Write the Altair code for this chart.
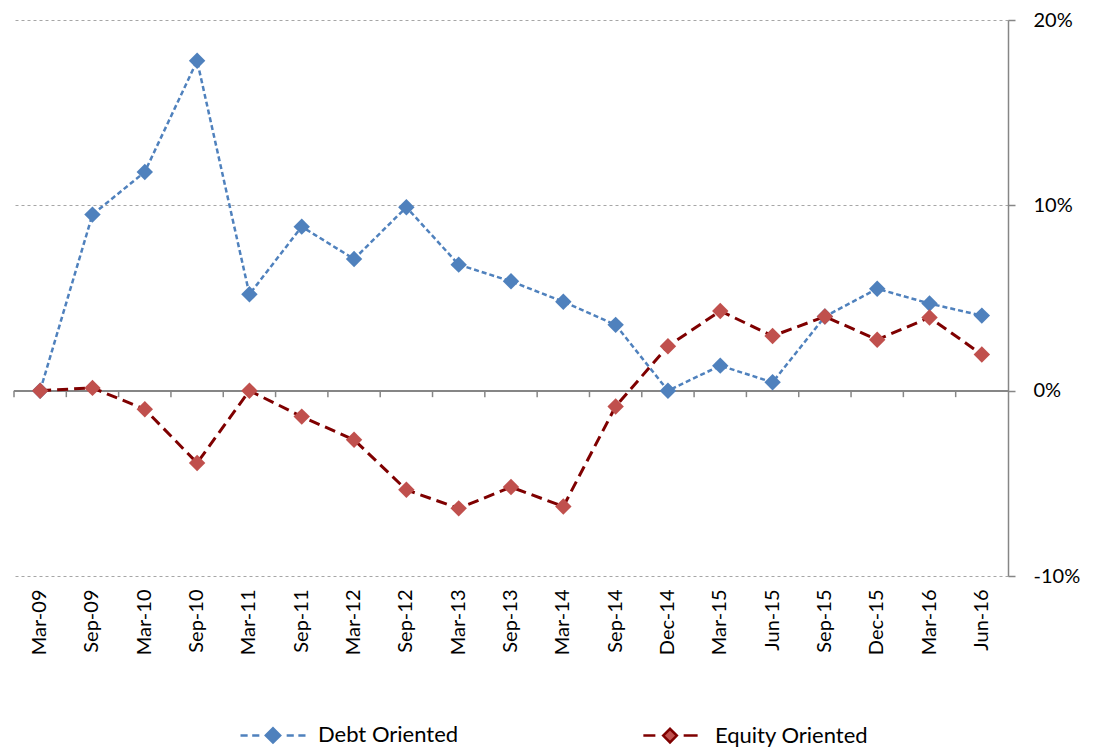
import altair as alt
import pandas as pd

categories = ["Mar-09", "Sep-09", "Mar-10", "Sep-10", "Mar-11", "Sep-11", "Mar-12",
              "Sep-12", "Mar-13", "Sep-13", "Mar-14", "Sep-14", "Dec-14", "Mar-15",
              "Jun-15", "Sep-15", "Dec-15", "Mar-16", "Jun-16"]
debt = [0.0, 9.5, 11.8, 17.8, 5.2, 8.85, 7.1, 9.9, 6.8, 5.9, 4.8, 3.55, 0.0, 1.35,
        0.45, 4.0, 5.5, 4.7, 4.05]
equity = [0.0, 0.15, -1.0, -3.9, 0.0, -1.4, -2.65, -5.35, -6.35, -5.2, -6.25, -0.85,
          2.4, 4.3, 2.95, 4.0, 2.75, 3.95, 1.95]
series_names = ["Debt Oriented", "Equity Oriented"]
line_colors = ["#4F81BD", "#7F0000"]
marker_colors = ["#4F81BD", "#C0504D"]
y_ticks = [-10, 0, 10, 20]

rows = []
for c, d, e in zip(categories, debt, equity):
    rows.append({"period": c, "series": series_names[0], "value": d})
    rows.append({"period": c, "series": series_names[1], "value": e})
df = pd.DataFrame(rows)
cat_df = pd.DataFrame({"period": categories})

FONT = "Lato"
AX = "#868686"

xscale = alt.Scale(type="band", domain=categories, paddingInner=0, paddingOuter=0)
yscale = alt.Scale(domain=[-10, 20], nice=False, zero=False)

x_axis = alt.Axis(labelAngle=-90, domain=False, ticks=False, grid=False,
                  labelFont=FONT, labelFontSize=20, labelColor="black",
                  labelFontWeight="normal",
                  labelPadding=13, labelAlign="right", labelBaseline="middle")
x_enc = alt.X("period:N", scale=xscale, sort=categories, bandPosition=0.5,
              title=None, axis=x_axis)
x_tick = alt.X("period:N", scale=xscale, sort=categories, bandPosition=0,
               title=None, axis=x_axis)
y_enc = alt.Y("value:Q", scale=yscale, title=None,
              axis=alt.Axis(orient="right", values=y_ticks,
                            labelExpr="datum.value + '%'",
                            grid=True, gridDash=[3, 3], gridColor="#A6A6A6",
                            gridWidth=1, domainColor=AX, domainWidth=1.5,
                            tickColor=AX, tickSize=7, tickWidth=1.5,
                            labelPadding=18, labelFont=FONT, labelFontSize=20,
                            labelFontWeight="normal", labelColor="black"))

debt_path = "M-1,0H-0.78M-0.64,0H-0.42M-0.22,0L0,-0.22L0.22,0L0,0.22ZM0.42,0H0.64M0.78,0H1"
eq_path = "M-0.82,0H-0.45M-0.21,0L0,-0.21L0.21,0L0,0.21ZM0.42,0H0.85"

legend = alt.Legend(
    title=None, orient="none", legendX=225, legendY=681, direction="horizontal",
    symbolSize=4225, labelFont=FONT, labelFontSize=22, labelColor="black",
    labelFontWeight="normal",
    labelOffset=11, columnPadding=177, symbolStrokeWidth=2.5, padding=0,
    symbolOpacity=1,
)


def line_layer(i, dash, width):
    return alt.Chart(df).transform_filter(alt.datum.series == series_names[i]).mark_line(
        color=line_colors[i], strokeDash=dash, strokeWidth=width
    ).encode(x=x_enc, y=y_enc)


def point_layer(i):
    return alt.Chart(df).transform_filter(alt.datum.series == series_names[i]).mark_point(
        shape="diamond", filled=True, size=270, opacity=1, strokeWidth=0,
        color=marker_colors[i]
    ).encode(x=x_enc, y=y_enc)


legend_layer = alt.Chart(df).transform_filter("false").mark_point(
    filled=True, strokeWidth=2.5, opacity=1
).encode(
    x=x_enc, y=y_enc,
    shape=alt.Shape("series:N", scale=alt.Scale(domain=series_names, range=[debt_path, eq_path]), legend=legend),
    fill=alt.Fill("series:N", scale=alt.Scale(domain=series_names, range=marker_colors), legend=legend),
    stroke=alt.Stroke("series:N", scale=alt.Scale(domain=series_names, range=line_colors), legend=legend),
)

zero_line = alt.Chart(cat_df).mark_rule(color=AX, strokeWidth=1.5).encode(y=alt.datum(0))
ticks = alt.Chart(cat_df).mark_rule(color=AX, strokeWidth=1.5).encode(
    x=x_tick, y=alt.datum(0), y2=alt.datum(-0.35))

chart = alt.layer(
    zero_line, ticks,
    line_layer(0, [5, 3], 2.5), point_layer(0),
    line_layer(1, [11, 6], 3), point_layer(1),
    legend_layer,
).properties(
    width=994, height=556,
    padding={"left": 5, "top": 2, "right": 5, "bottom": 5},
    background="white",
).configure_view(stroke=None)

chart.save("out.html", embed_options={"renderer": "svg", "actions": False})
